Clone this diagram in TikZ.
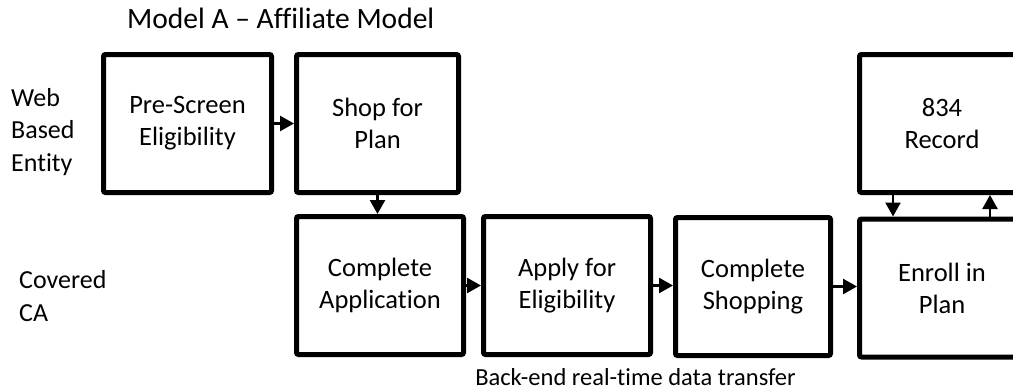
\documentclass[tikz,border=0pt]{standalone}
\usepackage{fontspec}
\setmainfont[Ligatures=NoCommon]{Carlito}
\usepackage{tikz}
\usetikzlibrary{arrows.meta,calc}

\tikzset{
	stagebox/.style={draw, line width=5pt, rounded corners=2pt, align=center, minimum height=138pt, inner sep=0pt, font=\fontsize{26.5}{32}\selectfont},
	lbl/.style={inner sep=0pt, align=left, font=\fontsize{26}{32.5}\selectfont},
	flow/.style={line width=2.5pt, -{Triangle[length=14pt,width=15pt]}}
}

\begin{document}
\begin{tikzpicture}[x=1pt, y=-1pt]
		\useasboundingbox (0,0) rectangle (1013,391);
		\node[lbl, anchor=west, font=\fontsize{29.5}{34}\selectfont] (title) at (127,18) {Model A -- Affiliate Model};
		\node[lbl, anchor=west] (web) at (11,132) {Web\\Based\\Entity};
		\node[lbl, anchor=west] (cca) at (19,296) {Covered\\CA};
		\node[stagebox, minimum width=168pt] (pre) at (187.5,123.5) {Pre-Screen\\Eligibility};
		\node[stagebox, minimum width=162pt] (shop) at (377.5,123.5) {Shop for\\Plan};
		\node[stagebox, minimum width=165pt] (rec) at (942,123.5) {834\\Record};
		\node[stagebox, minimum width=167pt] (app) at (380,285.5) {Complete\\Application};
		\node[stagebox, minimum width=167pt] (elig) at (567,285.5) {Apply for\\Eligibility};
		\node[stagebox, minimum width=155pt] (cshop) at (753,286.5) {Complete\\Shopping};
		\node[stagebox, minimum width=165pt] (enr) at (942,288) {Enroll in\\Plan};
		\node[lbl, font=\fontsize{24.5}{30}\selectfont] (note) at (635.5,377) {Back-end real-time data transfer};
		\draw[flow] (pre.east) -- (pre.east -| shop.west);
		\draw[flow] (shop.south) -- (shop.south |- app.north);
		\draw[flow] (app.east) -- (app.east -| elig.west);
		\draw[flow] (elig.east) -- (elig.east -| cshop.west);
		\draw[flow] (enr.west |- cshop.east) ++(-20,0) coordinate (c1) (c1 -| cshop.east) -- (enr.west |- c1);
		\draw[flow] ([xshift=36pt]rec.south west) -- ([xshift=36pt]enr.north west);
		\draw[flow] ([xshift=133pt]enr.north west) -- ([xshift=133pt]rec.south west);
\end{tikzpicture}
\end{document}
